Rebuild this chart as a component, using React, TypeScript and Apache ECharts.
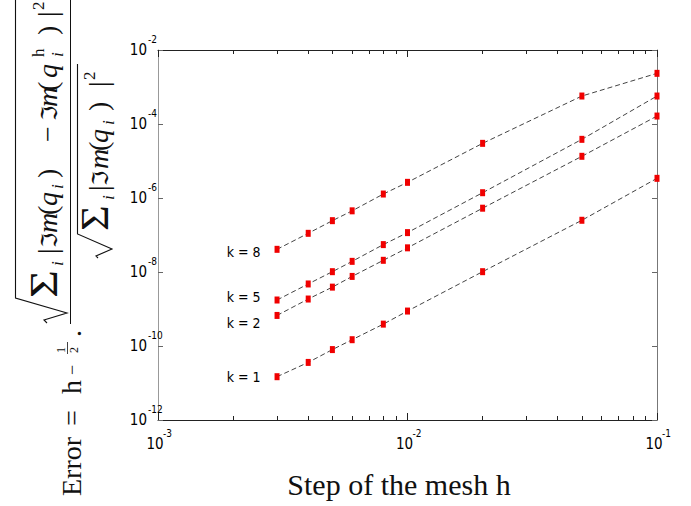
import React, { useEffect, useRef } from 'react';
import * as echarts from 'echarts';

// ---- data ----
const meshSteps = [0.003, 0.004, 0.005, 0.006, 0.008, 0.01, 0.02, 0.05, 0.1];
const errorK8 = [4.1e-8, 1.11e-7, 2.44e-7, 4.5e-7, 1.28e-6, 2.65e-6, 3.0e-5, 5.7e-4, 2.34e-3];
const errorK5 = [1.75e-9, 4.75e-9, 1.02e-8, 1.94e-8, 5.5e-8, 1.16e-7, 1.39e-6, 3.85e-5, 5.7e-4];
const errorK2 = [6.7e-10, 1.86e-9, 3.9e-9, 7.6e-9, 2.07e-8, 4.5e-8, 5.3e-7, 1.34e-5, 1.64e-4];
const errorK1 = [1.48e-11, 3.6e-11, 8.0e-11, 1.48e-10, 3.9e-10, 8.8e-10, 1.02e-8, 2.5e-7, 3.4e-6];
const seriesNames = ['k = 8', 'k = 5', 'k = 2', 'k = 1'];
const seriesValues = [errorK8, errorK5, errorK2, errorK1];

const xMinorTicks = [0.002, 0.003, 0.004, 0.005, 0.006, 0.007, 0.008, 0.009,
  0.02, 0.03, 0.04, 0.05, 0.06, 0.07, 0.08, 0.09];
const xAxisTitle = 'Step of the mesh h';
const tickBase = '10';

// ---- styles ----
const SERIF = "'Liberation Serif','Times New Roman',serif";
const SYM = "'DejaVu Serif','DejaVu Sans',serif";
const NARROW = "'Liberation Sans Narrow','DejaVu Sans Condensed','Liberation Sans',sans-serif";
const labelOffsets: number[][] = [[0, 3], [0, -3], [0, 8], [0, 0]];

const baseLabel = { fontFamily: NARROW, fontSize: 15, lineHeight: 15, color: '#000' };
const expLabel = { fontFamily: NARROW, fontSize: 10, lineHeight: 10, color: '#000' };
const expFormatter = (v: number) => String(Math.round(v));

// rotated text piece (reads bottom to top)
function rt(text: string, yStart: number, xBase: number, size: number, opts: any = {}) {
  const { italic = false, family = SERIF, sx = 1 } = opts;
  return {
    type: 'text',
    x: xBase - 0.34 * size,
    y: yStart,
    rotation: Math.PI / 2,
    scaleX: sx,
    silent: true,
    style: {
      text, fontSize: size, fontStyle: italic ? 'italic' : 'normal', fontFamily: family,
      fill: '#111', align: 'left', verticalAlign: 'middle',
    },
  };
}
function pl(points: number[][], w = 1.1) {
  return { type: 'polyline', silent: true, shape: { points }, style: { stroke: '#111', lineWidth: w, fill: 'none' } };
}

function formulaGraphics() {
  const M = 28, S = 17;
  const mainB = 81, numB = 57, denB = 108;
  return [
    // Error = h^{-1/2} .
    rt('Error', 496, mainB, M),
    rt('=', 426, mainB, M),
    rt('h', 394, mainB, M),
    rt('\u2212', 375, 78, 18),
    rt('1', 353, 65, 12),
    rt('2', 353, 78, 12),
    pl([[67.5, 354], [67.5, 342]], 0.8),
    rt('.', 337, mainB, M),
    // fraction bar
    pl([[70.5, 324], [70.5, 0]], 1),
    // numerator radical
    pl([[47, 323], [44, 320], [67, 313], [15.5, 298], [15.5, 0]], 1.1),
    // numerator
    rt('\u03A3', 298, numB, 40, { sx: 1.2 }),
    rt('i', 266, numB + 6, S, { italic: true }),
    rt('|', 254, numB, M),
    rt('\u2111', 248, numB, 22, { family: SYM }),
    rt('m', 233, numB, M, { italic: true }),
    rt('(', 215, numB, M),
    rt('q', 206, numB, M, { italic: true }),
    rt('i', 189, numB + 6, S, { italic: true }),
    rt(')', 178, numB, M),
    rt('\u2212', 142, numB, M),
    rt('\u2111', 121, numB, 22, { family: SYM }),
    rt('m', 107, numB, M, { italic: true }),
    rt('(', 91, numB, M),
    rt('q', 78, numB, M, { italic: true }),
    rt('h', 57, numB - 13, S),
    rt('i', 57, numB + 6, S, { italic: true }),
    rt(')', 35, numB, M),
    rt('|', 17, numB, M),
    rt('2', 10, numB - 13, S),
    // denominator radical
    pl([[98, 258], [96, 256], [112, 249], [77.5, 234], [77.5, 64]], 1.1),
    // denominator
    rt('\u03A3', 231, denB, 40, { sx: 1.1 }),
    rt('i', 200, denB + 6, S, { italic: true }),
    rt('|', 191, denB, M),
    rt('\u2111', 186, denB, 22, { family: SYM }),
    rt('m', 169, denB, M, { italic: true }),
    rt('(', 151, denB, M),
    rt('q', 143, denB, M, { italic: true }),
    rt('i', 125, denB + 6, S, { italic: true }),
    rt(')', 111, denB, M),
    rt('|', 87, denB, M),
    rt('2', 80, denB - 13, S),
    // x axis title
    {
      type: 'text', x: 399, y: 484, silent: true,
      style: { text: xAxisTitle, fontSize: 30, fontFamily: SERIF, fill: '#111', align: 'center', verticalAlign: 'middle' },
    },
  ];
}

export default function App() {
  const ref = useRef<HTMLDivElement>(null);
  useEffect(() => {
    if (!ref.current) return;
    const chart = echarts.init(ref.current, null, { renderer: 'svg' });
    const series = seriesValues.map((vals, si) => ({
      type: 'line',
      name: seriesNames[si],
      xAxisIndex: 0,
      yAxisIndex: 0,
      symbol: 'rect',
      symbolSize: [5, 7],
      itemStyle: { color: '#f00000' },
      lineStyle: { color: '#444', width: 1, type: [5, 3] },
      label: { show: false },
      data: vals.map((v, i) => i === 0
        ? {
          value: [meshSteps[i], v],
          label: {
            show: true, position: 'left', distance: 14, offset: labelOffsets[si],
            formatter: seriesNames[si], fontFamily: NARROW, fontSize: 14, color: '#000',
          },
        }
        : { value: [meshSteps[i], v] }),
    }));
    const minorLog = xMinorTicks.map((t) => Math.log10(t));
    const valueAxisBase = { type: 'value', splitLine: { show: false } };
    const hiddenLine = { show: false, onZero: false };
    chart.setOption({
      animation: false,
      backgroundColor: '#fff',
      grid: { left: 158, top: 50, right: 34, bottom: 86, containLabel: false },
      xAxis: [
        { type: 'log', min: 0.001, max: 0.1, show: false },
        {
          ...valueAxisBase, min: -3, max: -1, interval: 1, position: 'bottom',
          axisLine: { onZero: false, lineStyle: { color: '#222', width: 1 } },
          axisTick: { inside: true, length: 7, lineStyle: { color: '#222' } },
          axisLabel: { ...baseLabel, formatter: () => tickBase, margin: 16, padding: [0, 6, 0, 0] },
        },
        {
          ...valueAxisBase, min: -3, max: -1, interval: 1, position: 'bottom',
          axisLine: hiddenLine, axisTick: { show: false },
          axisLabel: { ...expLabel, formatter: expFormatter, margin: 8, align: 'left', padding: [0, 0, 0, 5] },
        },
        {
          ...valueAxisBase, min: -3, max: -1, interval: 1, position: 'top',
          axisLine: { onZero: false, lineStyle: { color: '#222', width: 1 } },
          axisTick: { inside: true, length: 7, lineStyle: { color: '#222' } },
          axisLabel: { show: false },
        },
        {
          ...valueAxisBase, min: -3, max: -1, position: 'bottom',
          axisLine: hiddenLine,
          axisTick: { inside: true, length: 4, customValues: minorLog, lineStyle: { color: '#222' } },
          axisLabel: { show: false },
        },
        {
          ...valueAxisBase, min: -3, max: -1, position: 'top',
          axisLine: hiddenLine,
          axisTick: { inside: true, length: 4, customValues: minorLog, lineStyle: { color: '#222' } },
          axisLabel: { show: false },
        },
      ],
      yAxis: [
        { type: 'log', min: 1e-12, max: 1e-2, show: false },
        {
          ...valueAxisBase, min: -12, max: -2, interval: 2, position: 'left',
          axisLine: { onZero: false, lineStyle: { color: '#999', width: 1 } },
          axisTick: { inside: true, length: 5, lineStyle: { color: '#666' } },
          axisLabel: { ...baseLabel, formatter: () => tickBase, margin: 11 },
        },
        {
          ...valueAxisBase, min: -12, max: -2, interval: 2, position: 'left',
          axisLine: hiddenLine, axisTick: { show: false },
          axisLabel: {
            ...expLabel, lineHeight: 22, verticalAlign: 'bottom',
            formatter: expFormatter, margin: 10, align: 'left',
          },
        },
        {
          ...valueAxisBase, min: -12, max: -2, interval: 2, position: 'right',
          axisLine: { onZero: false, lineStyle: { color: '#777', width: 1 } },
          axisTick: { inside: true, length: 5, lineStyle: { color: '#666' } },
          axisLabel: { show: false },
        },
      ],
      series,
      graphic: formulaGraphics(),
    });
    return () => chart.dispose();
  }, []);
  return <div ref={ref} style={{ position: 'absolute', left: 0, top: 0, width: 691, height: 506 }} />;
}
